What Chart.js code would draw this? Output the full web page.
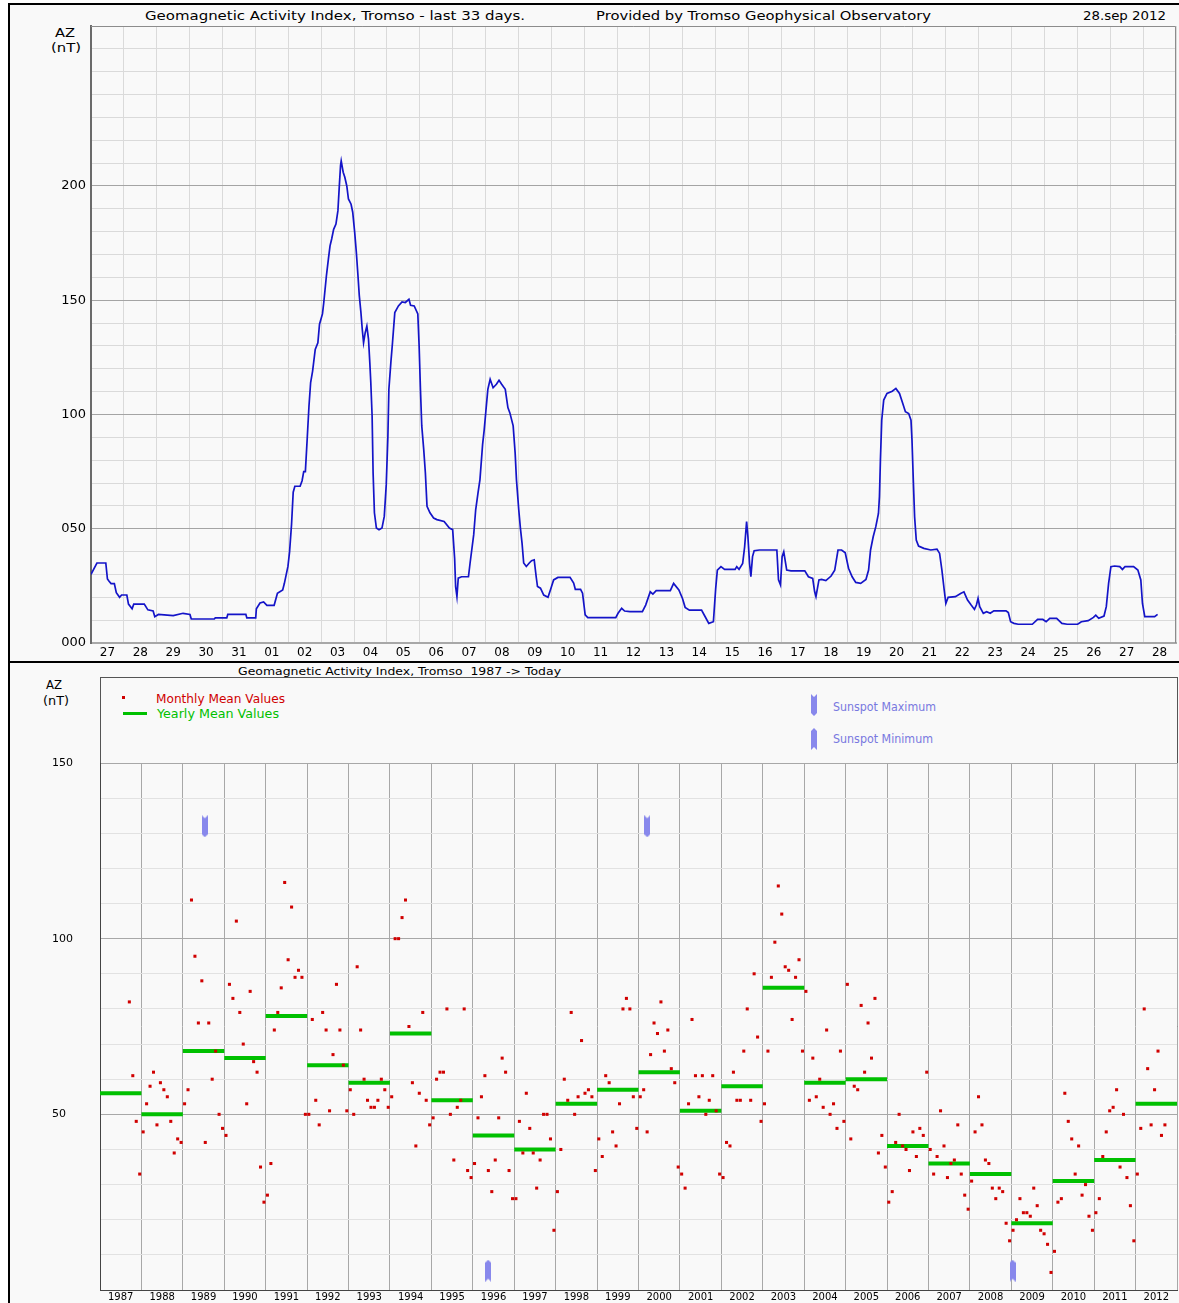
<!DOCTYPE html>
<html>
<head>
<meta charset="utf-8">
<script src="https://cdn.jsdelivr.net/npm/chart.js@4.4.1/dist/chart.umd.min.js"></script>
<style>
html,body{margin:0;padding:0;background:#fff;}
body{width:1179px;height:1303px;position:relative;overflow:hidden;font-family:'DejaVu Sans',sans-serif;}
#frame{position:absolute;left:8px;top:3px;width:1171px;height:1300px;background:#f9f9f9;border-left:2px solid #000;border-top:2px solid #000;box-sizing:border-box;}
#sep{position:absolute;left:8px;top:661px;width:1171px;height:2px;background:#000;}
#box2{position:absolute;left:100px;top:677px;width:1078px;height:614px;border:1px solid #555;box-sizing:border-box;}
.t{position:absolute;white-space:nowrap;line-height:1;transform-origin:left center;transform:translateY(-50%);color:#000;}
#c1wrap{position:absolute;left:0;top:0;width:1179px;height:662px;}
#c2wrap{position:absolute;left:0;top:663px;width:1179px;height:640px;}
.icon{position:absolute;}
</style>
</head>
<body>
<div id="frame"></div>
<div id="sep"></div>
<div id="box2"></div>

<div class="t" style="left:145px;top:15px;font-size:13px;" data-w="380">Geomagnetic Activity Index, Tromso - last 33 days.</div>
<div class="t" style="left:596px;top:15px;font-size:13px;" data-w="335">Provided by Tromso Geophysical Observatory</div>
<div class="t" style="left:1083px;top:15px;font-size:13px;" data-w="83">28.sep 2012</div>
<div class="t" style="left:55px;top:32px;font-size:13px;" data-w="20">AZ</div>
<div class="t" style="left:51px;top:47px;font-size:13px;" data-w="30">(nT)</div>

<div class="t" style="left:238px;top:671px;font-size:11px;" data-w="323">Geomagnetic Activity Index, Tromso&nbsp;&nbsp;1987 -&gt; Today</div>
<div class="t" style="left:46px;top:685px;font-size:12px;" data-w="16">AZ</div>
<div class="t" style="left:43px;top:701px;font-size:12px;" data-w="26">(nT)</div>
<div class="t" style="left:156px;top:699px;font-size:12px;color:#d00000;" data-w="129">Monthly Mean Values</div>
<div class="t" style="left:157px;top:714px;font-size:12px;color:#00c000;" data-w="122">Yearly Mean Values</div>
<div class="t" style="left:833px;top:707px;font-size:12px;color:#7878e0;" data-w="103">Sunspot Maximum</div>
<div class="t" style="left:833px;top:739px;font-size:12px;color:#7878e0;" data-w="100">Sunspot Minimum</div>
<div style="position:absolute;left:122px;top:696px;width:3px;height:3px;background:#d00000;"></div>
<div style="position:absolute;left:123px;top:712px;width:24px;height:3px;background:#00c000;"></div>
<canvas id="iconMax" class="icon" width="6" height="22" style="left:811px;top:694px;"></canvas>
<canvas id="iconMin" class="icon" width="6" height="22" style="left:811px;top:728px;"></canvas>

<div id="c1wrap"><canvas id="c1"></canvas></div>
<div id="c2wrap"><canvas id="c2"></canvas></div>

<script>
// ---------------- Top chart data: AZ (nT), last 33 days ----------------
const dayLabels = ['27','28','29','30','31','01','02','03','04','05','06','07','08','09','10','11','12','13','14','15','16','17','18','19','20','21','22','23','24','25','26','27','28'];
const azTickValues = [0, 50, 100, 150, 200];
const azTickLabels = ['000', '050', '100', '150', '200'];
// time in days since 27 Aug 00:00
const azDays = [0.00,0.18,0.45,0.50,0.55,0.61,0.71,0.77,0.87,0.93,1.09,1.14,1.25,1.30,1.62,1.73,1.89,1.94,2.05,2.50,2.80,3.01,3.05,3.75,3.78,4.13,4.16,4.71,4.74,5.01,
5.03,5.14,5.25,5.35,5.57,5.67,5.83,5.88,5.99,6.04,6.10,6.15,6.20,6.36,6.42,6.47,6.52,6.58,6.63,6.68,6.74,6.82,6.90,6.95,7.04,7.08,7.16,7.22,7.27,7.32,
7.38,7.45,7.51,7.55,7.59,7.61,7.67,7.72,7.78,7.83,7.91,7.96,8.02,8.07,8.12,8.16,8.21,8.25,8.29,8.34,8.39,8.44,8.48,8.51,8.55,8.58,8.62,8.68,8.76,8.85,
8.92,8.98,9.03,9.06,9.12,9.17,9.24,9.35,9.46,9.56,9.67,9.72,9.83,9.94,9.98,10.02,10.06,10.12,10.17,10.22,10.31,10.42,10.52,10.74,10.90,11.00,11.06,11.09,11.13,11.17,
11.27,11.48,11.53,11.64,11.70,11.77,11.83,11.91,11.96,12.01,12.07,12.14,12.23,12.33,12.41,12.49,12.60,12.68,12.74,12.84,12.90,12.94,13.01,13.06,13.11,13.16,13.24,13.33,13.40,13.48,
13.54,13.58,13.67,13.77,13.90,13.99,14.07,14.20,14.57,14.68,14.73,14.89,14.95,15.03,15.11,15.96,16.03,16.14,16.23,16.39,16.77,16.87,17.01,17.09,17.19,17.62,17.72,17.88,17.99,18.07,
18.20,18.57,18.68,18.79,18.93,19.00,19.05,19.16,19.27,19.59,19.64,19.71,19.82,19.88,19.94,19.98,20.03,20.07,20.12,20.17,20.33,20.86,20.91,20.97,21.02,21.07,21.16,21.29,21.71,21.82,
21.95,22.01,22.05,22.14,22.22,22.35,22.51,22.62,22.72,22.83,22.94,23.04,23.15,23.26,23.41,23.57,23.65,23.71,23.79,23.87,23.95,23.98,24.01,24.05,24.11,24.21,24.37,24.48,24.59,24.69,
24.77,24.87,24.94,24.97,25.01,25.05,25.10,25.17,25.33,25.54,25.73,25.81,25.88,25.95,26.00,26.07,26.29,26.45,26.55,26.66,26.77,26.87,26.93,26.98,27.03,27.14,27.24,27.35,27.46,27.83,
27.90,27.97,28.07,28.20,28.63,28.79,28.95,29.05,29.16,29.37,29.53,29.69,30.01,30.12,30.33,30.49,30.56,30.65,30.81,30.88,30.95,31.02,31.13,31.29,31.37,31.45,31.71,31.84,31.93,31.98,
32.05,32.35,32.44];
const azValues = [30,35,35,28,27,26,26,22,20,21,21,17,15,17,17,14.5,14,11.5,12.5,12,13,12.5,10.5,10.5,11,11,12.5,12.5,11,11,
15,17.5,18,16.5,16.5,21.8,23.2,26,33.5,40,52,66,68.6,68.6,71,75,75,90.5,103.7,114,119,128.5,131.4,139.5,144,149,160.7,168,173.8,176.8,
181,183.3,189.2,199.4,209,211,206,203.8,200,194.3,192,188.5,179.7,171,160.7,152,144.6,137.3,131.4,135.8,138.7,133,122.7,114,99.3,74.4,57,50.3,49.6,50.3,
55.4,69.3,90.5,111,122.7,131.4,144.6,147.5,149.3,149,150.4,147.8,147.5,144,130,111,95,84.6,74.4,59.8,57,54.7,54,53.2,50.3,49.6,37,24.7,20.3,28.4,
29,29,35,47.4,58.3,65.6,71.5,86.8,93.4,101.5,111,115.4,111.7,113.2,115,113.2,111,103,100.7,95,83.2,71.5,58.3,50.3,43.7,35,33.5,35,36,36.4,
29,24.7,24,21,20,24,27.6,28.7,28.7,26.2,23.5,23.5,21.8,12.3,11.1,11.1,13,15.2,14,13.7,13.7,16.6,22.4,21.4,22.9,22.9,26.1,23.2,19.5,15.6,
14.4,14.4,11.5,8.6,9.3,23.9,31.9,33.4,32.2,32.2,33.4,32.2,34.8,42.1,53.1,46.5,34.8,29,37.8,40.4,40.7,40.7,27.6,25.4,37.8,39.9,31.9,31.6,31.6,29,
28.3,22.4,20.3,27.6,27.8,27.3,29.3,31.9,40.7,40.7,39.5,32.7,29,26.5,26.1,27.8,31.9,40.7,46.5,50.9,56.7,64,80,97.5,106.3,109.2,110.2,111.4,109.2,104.8,
101.2,100.4,97.5,88.8,71.3,55.2,45,42.4,41.4,40.7,41.1,39.2,31.9,23.2,17.3,20,20.3,21.7,22.4,18.8,16.6,14.7,16.6,19.5,15.9,13,13.7,13,14.1,14.1,
13.3,9.3,8.6,8.2,8.2,10.3,10.3,9.3,10.8,10.8,8.6,8.2,8.2,9.3,9.8,11.2,12.2,10.8,11.8,15.9,26.1,33.4,33.7,33.4,32.2,33.4,33.4,31.9,27.6,17.3,
11.5,11.5,12.5];

// ---------------- Bottom chart data: 1987 -> today ----------------
const years = [1987,1988,1989,1990,1991,1992,1993,1994,1995,1996,1997,1998,1999,2000,2001,2002,2003,2004,2005,2006,2007,2008,2009,2010,2011,2012];
const yearlyMeans = [56,50,68,66,78,64,59,73,54,44,40,53,57,62,51,58,86,59,60,41,36,33,19,31,37,53];
const monthlyMeans = [
  [null,null,null,null,null,null,null,null,82,61,48,33],
  [45,53,58,62,47,59,57,55,48,39,43,42],
  [53,57,111,95,76,88,42,76,60,68,50,46],
  [44,87,83,105,79,70,53,85,65,62,35,25],
  [27,36,74,79,86,116,94,109,89,91,89,50],
  [50,77,54,47,79,74,51,67,87,74,64,51],
  [57,50,92,74,60,54,52,52,54,60,57,52],
  [55,100,100,106,111,75,59,41,56,79,54,47],
  [49,60,62,62,80,50,37,52,54,80,34,32],
  [36,49,55,61,34,28,37,49,66,62,34,26],
  [26,48,39,56,46,39,29,37,50,50,43,17],
  [28,40,60,54,79,50,55,71,56,57,55,34],
  [43,38,61,59,45,41,53,80,83,80,55,46],
  [55,57,45,67,76,73,82,68,74,63,59,35],
  [33,29,53,77,61,55,61,50,54,61,51,33],
  [32,42,41,62,54,54,68,80,54,90,72,48],
  [53,68,89,99,115,107,92,91,77,89,94,68],
  [85,54,66,55,60,52,74,50,53,46,68,48],
  [87,43,58,57,81,62,76,66,83,39,44,35],
  [25,28,42,50,41,40,34,45,38,46,44,62],
  [40,33,38,51,41,32,36,37,47,33,27,23],
  [31,45,55,47,37,36,29,26,29,28,19,14],
  [17,20,26,22,22,21,29,24,17,16,13,5],
  [11,25,26,56,48,43,33,41,27,30,21,17],
  [22,26,38,45,51,52,57,35,50,32,24,14],
  [33,46,80,63,47,57,68,44,47]
];
const sunspotMaxDates = [1989.53, 2000.21];
const sunspotMaxLevel = 132;
const sunspotMinDates = [1996.37, 2009.03];
const sunspotMinLevel = 5.5;
const histTickValues = [50, 100, 150];

// ---------------- helpers ----------------
Chart.defaults.font.family = "'DejaVu Sans', sans-serif";
Chart.defaults.color = '#000';

function drawMarker(g, kind, w, h) {
  g.fillStyle = '#8888ec';
  g.beginPath();
  if (kind === 'max') {
    g.moveTo(0, 0); g.lineTo(w / 2, 3); g.lineTo(w, 0); g.lineTo(w, h - 3); g.lineTo(w / 2, h); g.lineTo(0, h - 3);
  } else {
    g.moveTo(0, 3); g.lineTo(w / 2, 0); g.lineTo(w, 3); g.lineTo(w, h); g.lineTo(w / 2, h - 3); g.lineTo(0, h);
  }
  g.closePath();
  g.fill();
}
function markerCanvas(kind) {
  const c = document.createElement('canvas');
  c.width = 6; c.height = 22;
  drawMarker(c.getContext('2d'), kind, 6, 22);
  return c;
}
drawMarker(document.getElementById('iconMax').getContext('2d'), 'max', 6, 22);
drawMarker(document.getElementById('iconMin').getContext('2d'), 'min', 6, 22);

const areaBorder = {
  id: 'areaBorder',
  afterDraw(chart, args, opts) {
    if (!opts || !opts.color) return;
    const { ctx, chartArea: a } = chart;
    ctx.save();
    ctx.strokeStyle = opts.color;
    ctx.lineWidth = 1;
    ctx.beginPath();
    ctx.moveTo(a.left, a.top + 0.5);
    ctx.lineTo(a.right - 0.5, a.top + 0.5);
    ctx.lineTo(a.right - 0.5, a.bottom);
    ctx.stroke();
    ctx.restore();
  }
};

// ---------------- Top chart ----------------
new Chart(document.getElementById('c1'), {
  type: 'scatter',
  data: {
    datasets: [{
      data: azDays.map((d, i) => ({ x: d, y: azValues[i] })),
      showLine: true,
      borderColor: '#1414c8',
      borderWidth: 1.7,
      pointRadius: 0,
      tension: 0,
      fill: false
    }]
  },
  options: {
    responsive: true,
    maintainAspectRatio: false,
    animation: false,
    layout: { autoPadding: false, padding: { top: 26, right: 3, left: 0, bottom: 0 } },
    plugins: { legend: { display: false }, tooltip: { enabled: false }, areaBorder: { color: '#8c8c8c' } },
    scales: {
      x: {
        type: 'linear', min: 0, max: dayLabels.length,
        afterBuildTicks: s => { s.ticks = []; for (let i = 0; i <= dayLabels.length * 2; i++) s.ticks.push({ value: i / 2 }); },
        afterFit: s => { s.height = 19; },
        ticks: {
          autoSkip: false, maxRotation: 0, minRotation: 0, padding: 3,
          font: { size: 12 }, color: '#000',
          callback: v => (Math.abs(v % 1) < 1e-6) ? '' : dayLabels[Math.floor(v)]
        },
        grid: {
          drawTicks: false, lineWidth: 1,
          color: c => (c.tick && Math.abs(c.tick.value % 1) < 1e-6) ? '#dadada' : 'rgba(0,0,0,0)'
        },
        border: { color: '#a8a8a8', width: 2 }
      },
      y: {
        type: 'linear', min: 0, max: 270,
        afterBuildTicks: s => { s.ticks = []; for (let v = 0; v <= 270; v += 10) s.ticks.push({ value: v }); },
        afterFit: s => { s.width = 91; },
        ticks: {
          autoSkip: false, padding: 5, font: { size: 13 }, color: '#000',
          callback: v => { const k = azTickValues.indexOf(v); return k >= 0 ? azTickLabels[k] : ''; }
        },
        grid: {
          drawTicks: false, lineWidth: 1,
          color: c => (c.tick && azTickValues.indexOf(c.tick.value) > 0) ? '#a4a4a4' : '#dadada'
        },
        border: { color: '#6a6a6a', width: 2 }
      }
    }
  },
  plugins: [areaBorder]
});

// ---------------- Bottom chart ----------------
const monthlyPoints = [];
monthlyMeans.forEach((row, i) => row.forEach((v, m) => {
  if (v !== null) monthlyPoints.push({ x: years[i] + (m + 0.5) / 12, y: v });
}));
const yearlyPoints = [];
years.forEach((yr, i) => {
  yearlyPoints.push({ x: yr, y: yearlyMeans[i] });
  yearlyPoints.push({ x: yr + 1, y: yearlyMeans[i] });
  yearlyPoints.push({ x: yr + 1, y: null });
});
const firstYear = years[0], lastYear = years[years.length - 1] + 1;

new Chart(document.getElementById('c2'), {
  type: 'scatter',
  data: {
    datasets: [
      { label: 'Monthly Mean Values', data: monthlyPoints, pointStyle: 'rect', pointRadius: 2.15, backgroundColor: '#d00000', borderWidth: 0, order: 0 },
      { label: 'Yearly Mean Values', data: yearlyPoints, showLine: true, spanGaps: false, borderColor: '#00c000', borderWidth: 4, pointRadius: 0, borderCapStyle: 'butt', order: 1 },
      { label: 'Sunspot Maximum', data: sunspotMaxDates.map(d => ({ x: d, y: sunspotMaxLevel })), pointStyle: markerCanvas('max'), pointRadius: 11, order: 2 },
      { label: 'Sunspot Minimum', data: sunspotMinDates.map(d => ({ x: d, y: sunspotMinLevel })), pointStyle: markerCanvas('min'), pointRadius: 11, order: 3 }
    ]
  },
  options: {
    responsive: true,
    maintainAspectRatio: false,
    animation: false,
    clip: false,
    layout: { autoPadding: false, padding: { top: 100, right: 2, left: 52, bottom: 0 } },
    plugins: { legend: { display: false }, tooltip: { enabled: false } },
    scales: {
      x: {
        type: 'linear', min: firstYear, max: lastYear,
        afterBuildTicks: s => { s.ticks = []; for (let v = firstYear; v <= lastYear + 1e-9; v += 0.5) s.ticks.push({ value: v }); },
        afterFit: s => { s.height = 13; },
        ticks: {
          autoSkip: false, maxRotation: 0, minRotation: 0, padding: 1,
          font: { size: 10 }, color: '#000',
          callback: v => (Math.abs(v % 1) < 1e-6) ? '' : String(Math.floor(v))
        },
        grid: {
          drawTicks: false, lineWidth: 1,
          color: c => (c.tick && Math.abs(c.tick.value % 1) < 1e-6) ? '#a8a8a8' : 'rgba(0,0,0,0)'
        },
        border: { color: '#444', width: 1 }
      },
      y: {
        type: 'linear', min: 0, max: 150,
        afterBuildTicks: s => { s.ticks = []; for (let v = 0; v <= 150; v += 10) s.ticks.push({ value: v }); },
        afterFit: s => { s.width = 48; },
        ticks: {
          autoSkip: false, crossAlign: 'far', font: { size: 11 }, color: '#000',
          callback: v => histTickValues.indexOf(v) >= 0 ? String(v) : ''
        },
        grid: {
          drawTicks: false, lineWidth: 1,
          color: c => (c.tick && histTickValues.indexOf(c.tick.value) >= 0) ? '#a8a8a8' : '#e2e2e2'
        },
        border: { color: '#444', width: 1 }
      }
    }
  }
});

// fit HTML texts to the widths measured on the reference
function fitTexts() {
  document.querySelectorAll('[data-w]').forEach(el => {
    el.style.transform = 'translateY(-50%)';
    const w = el.getBoundingClientRect().width;
    const t = parseFloat(el.dataset.w);
    if (w > 0) el.style.transform = 'translateY(-50%) scaleX(' + (t / w).toFixed(4) + ')';
  });
}
fitTexts();
if (document.fonts && document.fonts.ready) document.fonts.ready.then(fitTexts);
</script>
</body>
</html>
